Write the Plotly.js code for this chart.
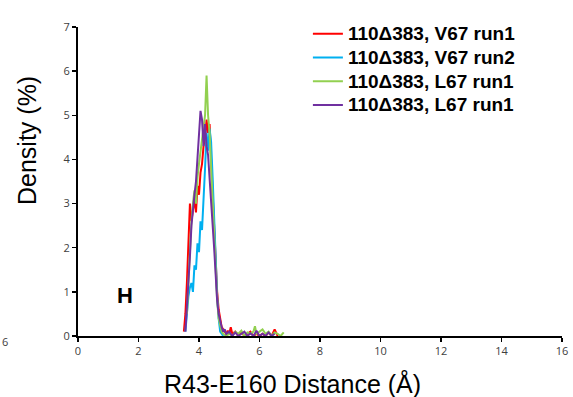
<!DOCTYPE html>
<html><head><meta charset="utf-8">
<script src="https://cdn.plot.ly/plotly-3.0.1.min.js"></script>
<style>html,body{margin:0;padding:0;background:#fff}#plot{width:573px;height:397px}</style>
</head><body><div id="plot"></div>
<script>
const seriesNames = ["110Δ383, V67 run1", "110Δ383, V67 run2", "110Δ383, L67 run1", "110Δ383, L67 run1"];
const seriesColors = ["#ff0000", "#00b0f0", "#92d050", "#7030a0"];

const redX = [3.50,3.55,3.60,3.65,3.70,3.75,3.80,3.85,3.90,3.95,4.00,4.05,4.10,4.15,4.20,4.25,4.30,4.35,4.40,4.45,4.50,4.55,4.60,4.65,4.70,4.75,4.80,4.85,4.90,4.95,5.00,5.05,5.10,5.20,5.30,5.40,5.50,5.60,5.70,5.80,5.90,6.00,6.10,6.20,6.30,6.40,6.50,6.60];
const redY = [0.1,0.5,1.2,2.2,3.0,2.6,2.8,3.1,2.8,3.4,3.2,3.7,3.9,4.3,4.5,4.9,4.6,4.8,4.0,3.2,2.4,1.6,1.0,0.6,0.35,0.2,0.15,0.1,0.05,0.12,0.05,0.2,0.05,0.1,0.0,0.08,0.0,0.05,0.1,0.0,0.05,0.0,0.05,0.0,0.08,0.0,0.15,0.0];

const blueX = [3.55,3.60,3.65,3.70,3.75,3.80,3.85,3.90,3.95,4.00,4.05,4.10,4.15,4.20,4.25,4.30,4.35,4.40,4.45,4.50,4.55,4.60,4.65,4.70,4.75,4.80];
const blueY = [0.1,0.5,0.9,1.1,1.2,1.0,1.6,1.5,2.1,1.9,2.6,2.4,3.3,3.8,4.6,4.2,4.7,4.4,3.6,2.6,1.7,0.9,0.4,0.1,0.05,0.0];

const greenX = [3.60,3.65,3.70,3.75,3.80,3.85,3.90,3.95,4.00,4.05,4.10,4.15,4.20,4.25,4.30,4.35,4.40,4.45,4.50,4.55,4.60,4.65,4.70,4.75,4.80,4.90,5.00,5.10,5.20,5.30,5.40,5.50,5.60,5.70,5.80,5.85,5.90,6.00,6.10,6.20,6.30,6.40,6.50,6.60,6.70,6.80];
const greenY = [0.5,1.3,2.0,2.6,3.0,3.3,3.0,3.6,3.9,4.2,4.4,4.8,5.0,5.9,5.0,4.6,3.8,3.0,2.2,1.4,0.8,0.4,0.2,0.1,0.05,0.0,0.05,0.0,0.1,0.05,0.12,0.0,0.08,0.05,0.1,0.22,0.05,0.1,0.15,0.05,0.1,0.0,0.08,0.05,0.0,0.08];

const purpleX = [3.55,3.60,3.65,3.70,3.75,3.80,3.85,3.90,3.95,4.00,4.05,4.10,4.15,4.20,4.25,4.30,4.35,4.40,4.45,4.50,4.55,4.60,4.65,4.70,4.75,4.80,4.85,4.90,5.00,5.10,5.20,5.30,5.40,5.50,5.60,5.70,5.80,5.90,6.00,6.10,6.20,6.30,6.40,6.50];
const purpleY = [0.1,0.6,1.3,1.8,2.5,2.9,3.2,3.5,4.0,4.4,5.1,4.9,4.3,4.8,4.3,4.1,3.6,3.2,2.7,2.0,1.4,0.8,0.5,0.3,0.2,0.1,0.15,0.05,0.1,0.0,0.08,0.0,0.05,0.1,0.0,0.06,0.0,0.12,0.0,0.05,0.0,0.08,0.0,0.05];

const xs = [redX, blueX, greenX, purpleX];
const ys = [redY, blueY, greenY, purpleY];

const traces = xs.map((x, i) => ({
  x: x, y: ys[i], type: "scatter", mode: "lines",
  name: '<span style="font-size:19px">' + seriesNames[i] + '</span>',
  line: {color: seriesColors[i], width: 2}
}));

const xTicks = [0,2,4,6,8,10,12,14,16];
const yTicks = [0,1,2,3,4,5,6,7];
const font = "Liberation Sans, Arial, sans-serif";
const tickFont = {family: "Open Sans, sans-serif", size: 11, color: "#404040"};

const layout = {
  width: 573, height: 397,
  margin: {l: 78, r: 11, t: 27, b: 61},
  paper_bgcolor: "#fff", plot_bgcolor: "#fff",
  showlegend: true,
  legend: {x: 0.475, y: 1.033, xanchor: "left", yanchor: "top",
    font: {family: font, size: 16, color: "#000", weight: "bold"},
    bgcolor: "rgba(0,0,0,0)", tracegroupgap: 0},
  xaxis: {range: [0, 16], tickvals: xTicks, ticktext: xTicks.map(String),
    showgrid: false, zeroline: false, showline: true, linecolor: "#000", linewidth: 2,
    ticks: "outside", ticklen: 4, tickwidth: 1.5, tickcolor: "#000", tickfont: tickFont},
  yaxis: {range: [0, 7], tickvals: yTicks, ticktext: yTicks.map(String),
    showgrid: false, zeroline: false, showline: true, linecolor: "#000", linewidth: 2,
    ticks: "outside", ticklen: 4, tickwidth: 1.5, tickcolor: "#000", tickfont: tickFont},
  annotations: [
    {text: "R43-E160 Distance (Å)", xref: "paper", yref: "paper", x: (292 - 78) / 484, y: -(383 - 336) / 309,
     xanchor: "center", yanchor: "middle", showarrow: false, font: {family: font, size: 25, color: "#000"}},
    {text: "Density (%)", xref: "paper", yref: "paper", x: (27 - 78) / 484, y: (336 - 141) / 309,
     xanchor: "center", yanchor: "middle", textangle: -90, showarrow: false, font: {family: font, size: 25, color: "#000"}},
    {text: "<b>H</b>", x: 1.55, y: 0.92, xref: "x", yref: "y", showarrow: false,
     font: {family: font, size: 22, color: "#000"}},
    {text: "6", xref: "paper", yref: "paper", x: (0 - 78) / 484, y: -(341 - 336) / 309, xanchor: "left", yanchor: "middle",
     showarrow: false, font: {family: "Open Sans, sans-serif", size: 11, color: "#404040"}}
  ]
};

Plotly.newPlot("plot", traces, layout, {displayModeBar: false, staticPlot: true});
</script>
</body></html>
